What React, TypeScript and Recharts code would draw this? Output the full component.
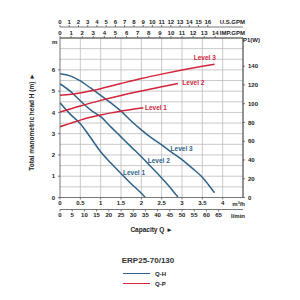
import { ComposedChart, Line, XAxis, YAxis, ReferenceLine, ReferenceDot, Label } from 'recharts';

// Pump curves, ERP25-70/130. Q in m³/h, H in m, P1 in W.
const qhLevel1 = [
  { q: 0, h: 4.45 }, { q: 0.25, h: 3.92 }, { q: 0.5, h: 3.47 }, { q: 0.75, h: 2.82 },
  { q: 1.0, h: 2.15 }, { q: 1.25, h: 1.62 }, { q: 1.5, h: 1.13 }, { q: 1.75, h: 0.65 },
  { q: 2.0, h: 0.2 }, { q: 2.1, h: 0 },
];
const qhLevel2 = [
  { q: 0, h: 5.35 }, { q: 0.25, h: 5.0 }, { q: 0.5, h: 4.55 }, { q: 0.75, h: 4.12 },
  { q: 1.0, h: 3.8 }, { q: 1.25, h: 3.32 }, { q: 1.5, h: 2.85 }, { q: 1.75, h: 2.38 },
  { q: 2.0, h: 1.92 }, { q: 2.25, h: 1.42 }, { q: 2.5, h: 0.92 }, { q: 2.75, h: 0.38 },
  { q: 2.9, h: 0.02 },
];
const qhLevel3 = [
  { q: 0, h: 5.82 }, { q: 0.25, h: 5.72 }, { q: 0.5, h: 5.48 }, { q: 0.75, h: 5.15 },
  { q: 1.0, h: 4.8 }, { q: 1.25, h: 4.45 }, { q: 1.5, h: 4.06 }, { q: 1.75, h: 3.6 },
  { q: 2.0, h: 3.18 }, { q: 2.25, h: 2.8 }, { q: 2.5, h: 2.47 }, { q: 2.75, h: 2.12 },
  { q: 3.0, h: 1.78 }, { q: 3.25, h: 1.38 }, { q: 3.5, h: 0.95 }, { q: 3.65, h: 0.6 },
  { q: 3.8, h: 0.22 },
];

const qpLevel1 = [
  { q: 0, p: 75.5 }, { q: 0.25, p: 79 }, { q: 0.5, p: 82.5 }, { q: 0.75, p: 85.5 },
  { q: 1.0, p: 88 }, { q: 1.25, p: 90.2 }, { q: 1.5, p: 92 }, { q: 1.75, p: 93.8 },
  { q: 2.0, p: 95.3 }, { q: 2.05, p: 95.5 },
];
const qpLevel2 = [
  { q: 0, p: 91 }, { q: 0.5, p: 97.5 }, { q: 1.0, p: 103.5 }, { q: 1.5, p: 108.8 },
  { q: 2.0, p: 113.5 }, { q: 2.5, p: 118 }, { q: 2.9, p: 121.5 },
];
const qpLevel3 = [
  { q: 0, p: 109 }, { q: 0.5, p: 111.5 }, { q: 1.0, p: 116 }, { q: 1.5, p: 121.5 },
  { q: 2.0, p: 126.8 }, { q: 2.5, p: 131.5 }, { q: 3.0, p: 135.8 }, { q: 3.5, p: 139.8 },
  { q: 3.8, p: 142 },
];

// curve labels, in data units
const headLabels = [
  { q: 1.82, h: 1.18, text: 'Level 1' },
  { q: 2.43, h: 1.72, text: 'Level 2' },
  { q: 2.99, h: 2.31, text: 'Level 3' },
];
const powerLabels = [
  { q: 2.36, p: 96, text: 'Level 1' },
  { q: 3.28, p: 122.4, text: 'Level 2' },
  { q: 3.56, p: 148.5, text: 'Level 3' },
];

// axes
const qTicks = [0, 0.5, 1, 1.5, 2, 2.5, 3, 3.5, 4];
const lminTicks = [0, 5, 10, 15, 20, 25, 30, 35, 40, 45, 50, 55, 60, 65];
const usGpmTicks = [0, 1, 2, 3, 4, 5, 6, 7, 8, 9, 10, 11, 12, 13, 14, 15, 16];
const impGpmTicks = [0, 1, 2, 3, 4, 5, 6, 7, 8, 9, 10, 11, 12, 13, 14];
const headTicks = [0, 1, 2, 3, 4, 5, 6];
const powerTicks = [0, 20, 40, 60, 80, 100, 120, 140];
const gridQ = [0.5, 1, 1.5, 2, 2.5, 3, 3.5, 4];
const gridHead = [0.5, 1, 1.5, 2, 2.5, 3, 3.5, 4, 4.5, 5, 5.5, 6, 6.5, 7];

const Q_MAX = 4.5;
const H_MAX = 7.5;
const BLUE = '#2f6389';
const RED = '#d3243a';
const INK = '#222';
const FONT = '"Liberation Sans", Arial, sans-serif';

const tickStyle = { fontSize: 6, fontWeight: 700, fill: INK, fontFamily: FONT };
const axisLine = { stroke: '#555', strokeWidth: 0.8 };
const unitLabel = { fontSize: 6, fontWeight: 700, fill: INK, fontFamily: FONT };

// secondary flow scales (same flow, other units)
const extraScales = [
  { id: 'lmin', max: (Q_MAX * 1000) / 60 },
  { id: 'imp', max: Q_MAX * 3.6661 },
  { id: 'us', max: Q_MAX * 4.4029 },
];

export default function App() {
  return (
    <div style={{ position: 'absolute', left: 0, top: 0, width: 300, height: 300, background: '#fff', fontFamily: FONT }}>
      <ComposedChart width={300} height={300} margin={{ top: 16, right: 27, bottom: 78.5, left: 50 }}>
        <XAxis xAxisId="flow" type="number" dataKey="q" domain={[0, Q_MAX]} ticks={qTicks} interval={0}
          height={12} tick={tickStyle} tickSize={2} tickMargin={1} axisLine={axisLine} tickLine={axisLine} allowDataOverflow>
          <Label value="m³/h" position="insideRight" offset={-2} style={unitLabel} />
        </XAxis>
        <XAxis xAxisId="lmin" type="number" dataKey="q" domain={[0, extraScales[0].max]} ticks={lminTicks} interval={0}
          height={12} tick={tickStyle} tickSize={2} tickMargin={1} axisLine={axisLine} tickLine={axisLine} allowDataOverflow>
          <Label value="l/min" position="insideRight" offset={-2} style={unitLabel} />
          <Label value="Capacity Q ►" position="bottom" offset={6} style={{ ...unitLabel, fontSize: 6.5 }} />
        </XAxis>
        <XAxis xAxisId="imp" orientation="top" type="number" dataKey="q" domain={[0, extraScales[1].max]} ticks={impGpmTicks} interval={0}
          height={11} tick={tickStyle} tickSize={2} tickMargin={1} axisLine={axisLine} tickLine={axisLine} allowDataOverflow>
          <Label value="IMP.GPM" position="insideRight" offset={-2} style={unitLabel} />
        </XAxis>
        <XAxis xAxisId="us" orientation="top" type="number" dataKey="q" domain={[0, extraScales[2].max]} ticks={usGpmTicks} interval={0}
          height={11} tick={tickStyle} tickSize={2} tickMargin={1} axisLine={axisLine} tickLine={axisLine} allowDataOverflow>
          <Label value="U.S.GPM" position="insideRight" offset={-2} style={unitLabel} />
        </XAxis>

        <YAxis yAxisId="h" type="number" domain={[0, H_MAX]} ticks={headTicks} interval={0} width={10}
          tick={tickStyle} tickSize={2} tickMargin={3} axisLine={axisLine} tickLine={axisLine} allowDataOverflow />
        <YAxis yAxisId="p" orientation="right" type="number" domain={[0, 170]} ticks={powerTicks} interval={0} width={30}
          tick={{ ...tickStyle, textAnchor: 'start' }} tickSize={2} tickMargin={3} axisLine={axisLine} tickLine={axisLine} allowDataOverflow />

        {/* grid, every 0.5 m³/h and 0.5 m */}
        {gridQ.map((v) => (
          <ReferenceLine key={'gx' + v} xAxisId="flow" yAxisId="h" x={v} stroke="#bcbcbc" strokeWidth={0.8} />
        ))}
        {gridHead.map((v) => (
          <ReferenceLine key={'gy' + v} xAxisId="flow" yAxisId="h" y={v} stroke="#bcbcbc" strokeWidth={0.8} />
        ))}
        <ReferenceLine xAxisId="flow" yAxisId="h" y={H_MAX} stroke="#555" strokeWidth={0.8} />
        <ReferenceLine xAxisId="flow" yAxisId="h" x={Q_MAX} stroke="#555" strokeWidth={0.8} />

        {/* invisible carriers so the unit-only scales get a domain and draw ticks */}
        {extraScales.map((s) => (
          <Line key={s.id} xAxisId={s.id} yAxisId="h" data={qhLevel3} dataKey="h" stroke="none" dot={false}
            activeDot={false} legendType="none" isAnimationActive={false} />
        ))}

        <Line xAxisId="flow" yAxisId="h" data={qhLevel1} dataKey="h" type="monotone" stroke={BLUE} strokeWidth={1.5} dot={false} isAnimationActive={false} />
        <Line xAxisId="flow" yAxisId="h" data={qhLevel2} dataKey="h" type="monotone" stroke={BLUE} strokeWidth={1.5} dot={false} isAnimationActive={false} />
        <Line xAxisId="flow" yAxisId="h" data={qhLevel3} dataKey="h" type="monotone" stroke={BLUE} strokeWidth={1.5} dot={false} isAnimationActive={false} />
        <Line xAxisId="flow" yAxisId="p" data={qpLevel1} dataKey="p" type="monotone" stroke={RED} strokeWidth={1.5} dot={false} isAnimationActive={false} />
        <Line xAxisId="flow" yAxisId="p" data={qpLevel2} dataKey="p" type="monotone" stroke={RED} strokeWidth={1.5} dot={false} isAnimationActive={false} />
        <Line xAxisId="flow" yAxisId="p" data={qpLevel3} dataKey="p" type="monotone" stroke={RED} strokeWidth={1.5} dot={false} isAnimationActive={false} />

        {headLabels.map((l) => (
          <ReferenceDot key={'h' + l.text} xAxisId="flow" yAxisId="h" x={l.q} y={l.h} r={0} stroke="none" fill="none"
            label={{ value: l.text, position: 'center', fill: BLUE, fontSize: 6.5, fontWeight: 700, fontFamily: FONT }} />
        ))}
        {powerLabels.map((l) => (
          <ReferenceDot key={'p' + l.text} xAxisId="flow" yAxisId="p" x={l.q} y={l.p} r={0} stroke="none" fill="none"
            label={{ value: l.text, position: 'center', fill: RED, fontSize: 6.5, fontWeight: 700, fontFamily: FONT }} />
        ))}
      </ComposedChart>

      {/* axis captions */}
      <div style={{ position: 'absolute', left: 52, top: 39, fontSize: 6, fontWeight: 700, color: INK }}>m</div>
      <div style={{ position: 'absolute', left: 243, top: 37, fontSize: 6, fontWeight: 700, color: INK }}>P1(W)</div>
      <div style={{
        position: 'absolute', left: 31, top: 121.5, transform: 'translate(-50%, -50%) rotate(-90deg)',
        whiteSpace: 'nowrap', fontSize: 6.5, fontWeight: 700, color: INK,
      }}>
        Total manometric head H (m) ►
      </div>

      {/* legend */}
      <div style={{ position: 'absolute', left: 0, width: 296, top: 256, textAlign: 'center', fontSize: 8, fontWeight: 700, color: '#333' }}>
        ERP25-70/130
      </div>
      <div style={{ position: 'absolute', left: 123, top: 273, width: 27, borderTop: `1.5px solid ${BLUE}` }} />
      <div style={{ position: 'absolute', left: 155, top: 270.5, fontSize: 6, fontWeight: 700, color: INK }}>Q-H</div>
      <div style={{ position: 'absolute', left: 123, top: 283, width: 27, borderTop: `1.5px solid ${RED}` }} />
      <div style={{ position: 'absolute', left: 155, top: 280.5, fontSize: 6, fontWeight: 700, color: INK }}>Q-P</div>
    </div>
  );
}
